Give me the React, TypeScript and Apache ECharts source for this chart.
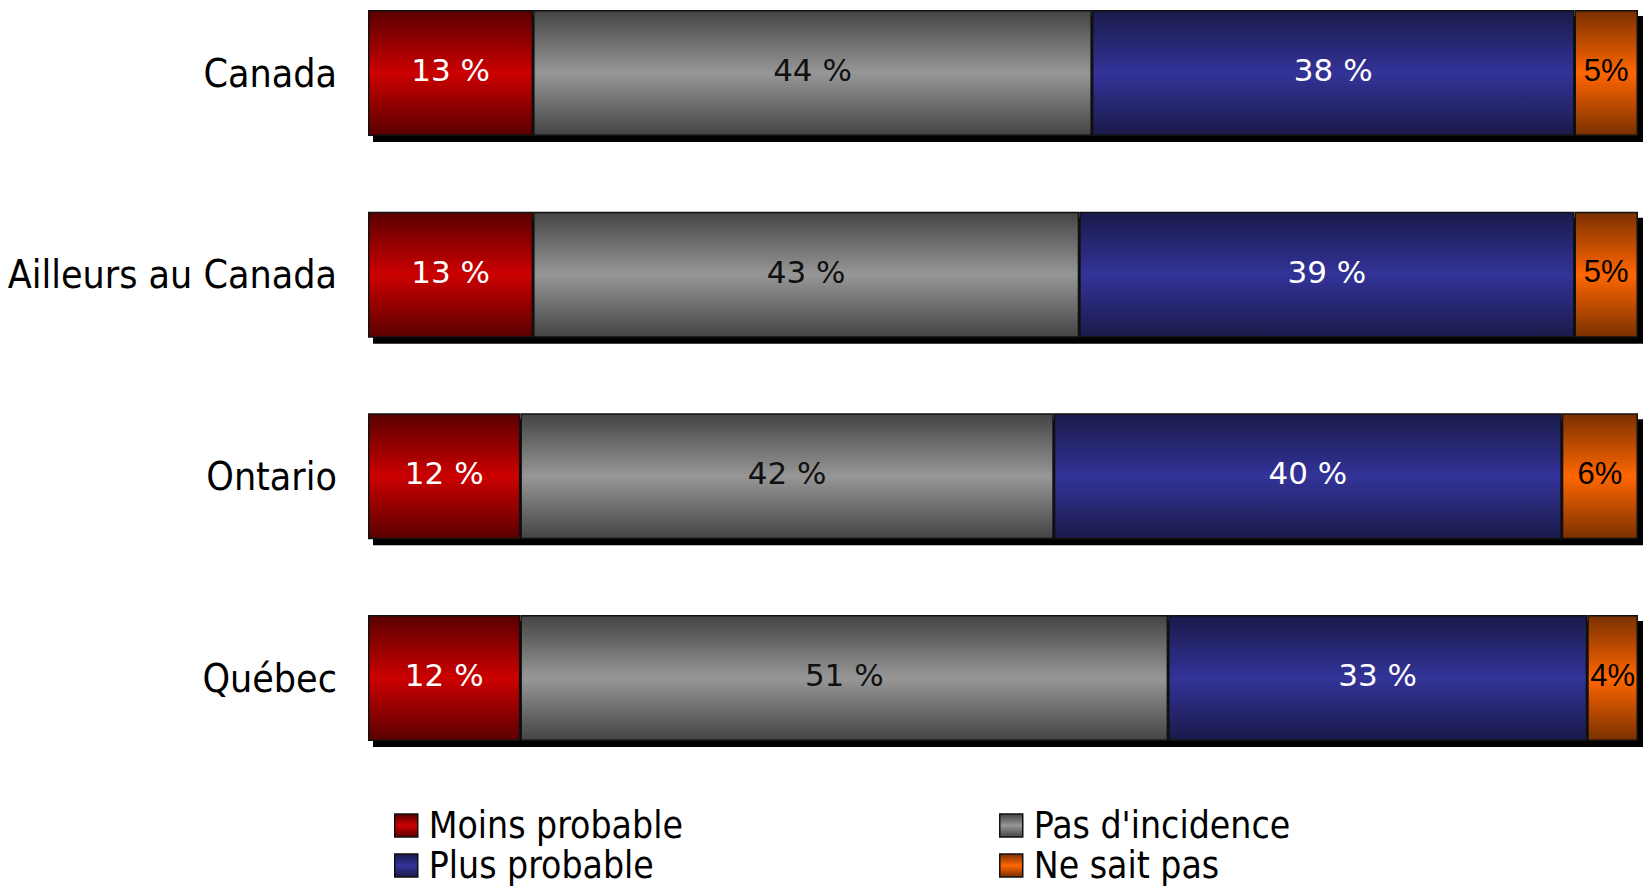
import React, { useEffect, useRef } from "react";
import * as echarts from "echarts";

const categories = ["Canada", "Ailleurs au Canada", "Ontario", "Québec"];
const moinsProbable = [13, 13, 12, 12];
const pasIncidence = [44, 43, 42, 51];
const plusProbable = [38, 39, 40, 33];
const neSaitPas = [5, 5, 6, 4];
const seriesNames = ["Moins probable", "Pas d'incidence", "Plus probable", "Ne sait pas"];

const grad = (dark: string, bright: string) =>
  new echarts.graphic.LinearGradient(0, 0, 0, 1, [
    { offset: 0, color: dark },
    { offset: 0.5, color: bright },
    { offset: 1, color: dark },
  ]);

export default function App() {
  const ref = useRef<HTMLDivElement>(null);
  useEffect(() => {
    if (!ref.current) return;
    const chart = echarts.init(ref.current, null, { renderer: "svg" });
    const totals = categories.map(
      (_, i) => moinsProbable[i] + pasIncidence[i] + plusProbable[i] + neSaitPas[i]
    );
    const fills = [
      grad("#5a0000", "#cc0000"),
      grad("#444444", "#979797"),
      grad("#1a1a4a", "#333399"),
      grad("#7a3000", "#ff6600"),
    ];
    const values = [moinsProbable, pasIncidence, plusProbable, neSaitPas];
    const labelColors = ["#ffffff", "#111111", "#ffffff", "#000000"];
    const barH = 126;
    const barSeries = values.map((vals, k) => ({
      name: seriesNames[k],
      type: "bar",
      stack: "total",
      barWidth: barH,
      data: vals,
      z: 3,
      itemStyle: { color: fills[k], borderColor: "#111", borderWidth: 1.5 },
      label: {
        show: true,
        position: "inside",
        offset: [0, -3],
        formatter: k === 3 ? "{c}%" : "{c} %",
        color: labelColors[k],
        fontFamily: k === 3 ? "Liberation Sans" : "DejaVu Sans",
        fontSize: 31,
      },
    }));
    const shadowSeries = {
      type: "custom",
      z: 1,
      silent: true,
      data: totals.map((t, i) => [t, i]),
      encode: { x: 0, y: 1 },
      renderItem: (params: any, api: any) => {
        const idx = api.value(1);
        const p0 = api.coord([0, idx]);
        const p1 = api.coord([api.value(0), idx]);
        return {
          type: "rect",
          shape: { x: p0[0] + 5, y: p0[1] - barH / 2 + 6, width: p1[0] - p0[0], height: barH },
          style: { fill: "#000" },
        };
      },
    };
    const legendItem = (name: string, left: number, top: number) => ({
      orient: "horizontal",
      itemWidth: 23,
      itemHeight: 23,
      icon: "rect",
      left,
      top,
      data: [name],
      textStyle: {
        fontFamily: "DejaVu Sans Condensed, DejaVu Sans",
        fontSize: 37,
        lineHeight: 36,
        color: "#000",
        padding: [0, 0, 0, 6],
      },
      itemStyle: { borderColor: "#111", borderWidth: 1.5 },
    });
    chart.setOption({
      animation: false,
      backgroundColor: "#fff",
      grid: { left: 368, right: 10, top: 73, height: 605 },
      xAxis: { type: "value", min: 0, max: 100, show: false },
      yAxis: {
        type: "category",
        data: categories,
        inverse: true,
        boundaryGap: false,
        axisLine: { show: false },
        axisTick: { show: false },
        splitLine: { show: false },
        axisLabel: {
          margin: 31,
          color: "#000",
          fontSize: 39,
          fontFamily: "DejaVu Sans Condensed, DejaVu Sans",
        },
      },
      legend: [
        legendItem(seriesNames[0], 389, 802),
        legendItem(seriesNames[2], 389, 842),
        legendItem(seriesNames[1], 994, 802),
        legendItem(seriesNames[3], 994, 842),
      ],
      series: [shadowSeries, ...barSeries],
    });
    return () => chart.dispose();
  }, []);
  return (
    <div
      ref={ref}
      style={{ position: "absolute", left: 0, top: 0, width: 1648, height: 891 }}
    />
  );
}
